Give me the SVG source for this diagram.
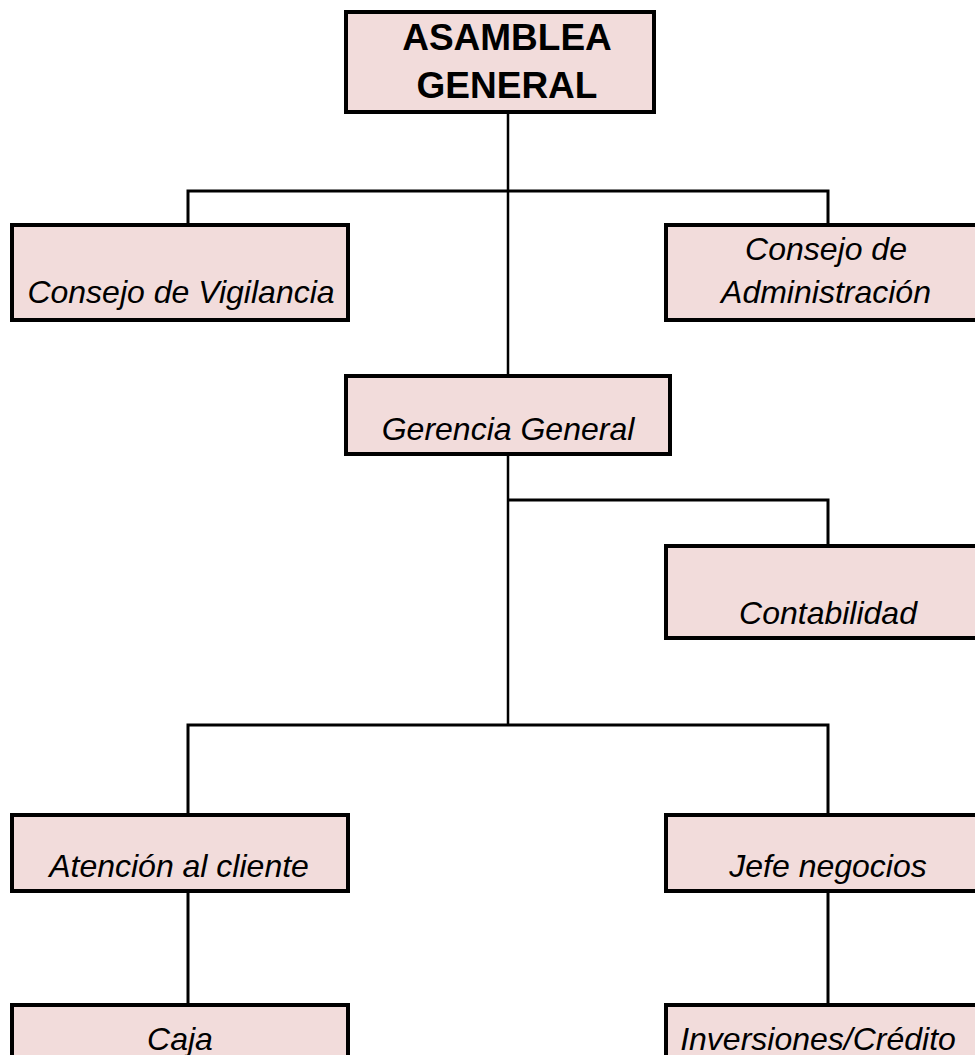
<svg xmlns="http://www.w3.org/2000/svg" width="975" height="1055" viewBox="0 0 975 1055">
<style>
.box{fill:#F2DCDB;stroke:#000;stroke-width:4}
.t{font-family:"Liberation Sans",Arial,sans-serif;font-style:italic;font-size:32px;fill:#000;text-anchor:middle}
.tb{font-family:"Liberation Sans",Arial,sans-serif;font-weight:bold;font-size:37px;fill:#000;text-anchor:middle}
.c{fill:none;stroke:#000;stroke-width:3}
.m{fill:none;stroke:#000;stroke-width:2.5}
</style>
<rect width="975" height="1055" fill="#fff"/>
<g id="connectors">
<line class="m" x1="508" y1="112" x2="508" y2="376"/>
<line class="m" x1="508" y1="454" x2="508" y2="726"/>
<polyline class="c" points="188,225 188,191 828,191 828,225"/>
<polyline class="c" points="508,500 828,500 828,546"/>
<polyline class="c" points="188,815 188,725 828,725 828,815"/>
<line class="c" x1="188" y1="891" x2="188" y2="1005"/>
<line class="c" x1="828" y1="891" x2="828" y2="1005"/>
</g>
<g id="asamblea">
<rect class="box" x="346" y="12" width="308" height="100"/>
<text class="tb" x="507" y="50">ASAMBLEA</text>
<text class="tb" x="507" y="98">GENERAL</text>
</g>
<g id="vigilancia">
<rect class="box" x="12" y="225" width="336" height="95"/>
<text class="t" x="181" y="303">Consejo de Vigilancia</text>
</g>
<g id="administracion">
<rect class="box" x="666" y="225" width="324" height="95"/>
<text class="t" x="826" y="260">Consejo de</text>
<text class="t" x="826" y="303">Administración</text>
</g>
<g id="gerencia">
<rect class="box" x="346" y="376" width="324" height="78"/>
<text class="t" x="508" y="440">Gerencia General</text>
</g>
<g id="contabilidad">
<rect class="box" x="666" y="546" width="324" height="92"/>
<text class="t" x="828" y="624">Contabilidad</text>
</g>
<g id="atencion">
<rect class="box" x="12" y="815" width="336" height="76"/>
<text class="t" x="179" y="877">Atención al cliente</text>
</g>
<g id="jefe">
<rect class="box" x="666" y="815" width="324" height="76"/>
<text class="t" x="828" y="877">Jefe negocios</text>
</g>
<g id="caja">
<rect class="box" x="12" y="1005" width="336" height="70"/>
<text class="t" x="180" y="1050">Caja</text>
</g>
<g id="inversiones">
<rect class="box" x="666" y="1005" width="324" height="70"/>
<text class="t" x="818" y="1050">Inversiones/Crédito</text>
</g>
</svg>
